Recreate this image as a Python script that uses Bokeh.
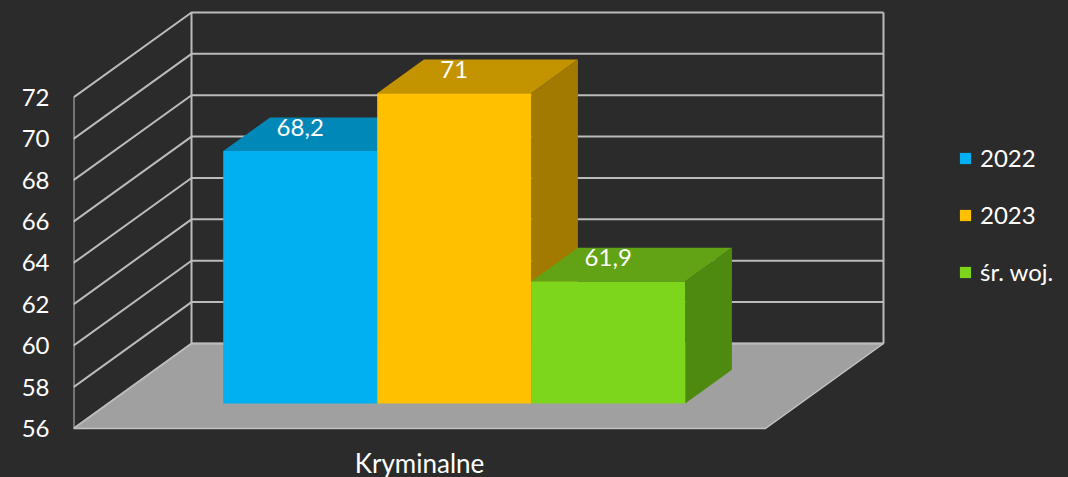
from bokeh.plotting import figure
from bokeh.models import Range1d, FixedTicker, ColumnDataSource, Legend, LegendItem
from bokeh.core.properties import value
from bokeh.embed import file_html
from bokeh.resources import INLINE

# ---------------- data ----------------
category = "Kryminalne"
series = ["2022", "2023", "śr. woj."]
values = [68.2, 71.0, 61.9]
value_labels = ["68,2", "71", "61,9"]
y_ticks = [56, 58, 60, 62, 64, 66, 68, 70, 72]

# ---------------- styles ----------------
front_colors = ["#00B0F0", "#FFC000", "#7ED61C"]
top_colors = ["#0088B9", "#C49300", "#62A315"]
side_colors = ["#00739E", "#A37A00", "#4F8A10"]
BG = "#2B2B2B"
GRID = "#BBBBBB"
FLOOR = "#A0A0A0"
TEXT = "#FFFFFF"
FONT = "Lato"

# ---------------- layout ----------------
W, H = 1068, 477
LEFT = 73            # frame left (canvas px)
PX = 20.69           # px per value unit
BASE_PX = 428        # canvas y of the lowest tick on the front plane
FLOOR_W = 692        # width of the front plane (x units = px)
DX = 118             # depth vector, x (px)
DY = 85 / PX         # depth vector, y (value units)
D0, D1 = 0.294, 0.69 # bar front/back depth fractions
GAP = 115            # gap at both sides of the bar group
BW = (FLOOR_W - 2 * GAP) / len(values)

Y0, Y1 = y_ticks[0], y_ticks[-1]

p = figure(width=W, height=H,
           x_range=Range1d(0, W - LEFT),
           y_range=Range1d(Y0 - (H - BASE_PX) / PX, Y0 + BASE_PX / PX),
           x_axis_type=None,
           min_border_left=LEFT, min_border_right=0,
           min_border_top=0, min_border_bottom=0,
           output_backend="svg", toolbar_location=None,
           background_fill_color=BG, border_fill_color=BG,
           outline_line_color=None)
p.styles = {"background-color": BG}
p.ygrid.grid_line_color = None

# y axis (values on the front-left edge)
ax = p.yaxis[0]
ax.ticker = FixedTicker(ticks=y_ticks)
ax.axis_line_color = None
ax.major_tick_line_color = None
ax.minor_tick_line_color = None
ax.major_tick_out = 0
ax.major_tick_in = 0
ax.major_label_standoff = 24
ax.major_label_text_font = FONT
ax.major_label_text_font_size = "24px"
ax.major_label_text_color = TEXT

# floor
p.patch([0, FLOOR_W, FLOOR_W + DX, DX], [Y0, Y0, Y0 + DY, Y0 + DY],
        fill_color=FLOOR, line_color="#C4C4C4", line_width=1.5)

# walls: gridlines on left wall and back wall, plus edges
xs, ys = [], []
for t in y_ticks:
    xs.append([0, DX, DX + FLOOR_W])
    ys.append([t, t + DY, t + DY])
xs.append([0, 0]); ys.append([Y0, Y1])
xs.append([DX, DX]); ys.append([Y0 + DY, Y1 + DY])
xs.append([DX + FLOOR_W, DX + FLOOR_W]); ys.append([Y0 + DY, Y1 + DY])
p.multi_line(xs, ys, line_color=GRID, line_width=2)

# bars
pxs, pys, pcol = [], [], []
bd = D1 - D0
ddx, ddy = bd * DX, bd * DY
lab_x, lab_y = [], []
for i, v in enumerate(values):
    x0 = D0 * DX + GAP + i * BW
    x1 = x0 + BW
    b = Y0 + D0 * DY
    t = v + D0 * DY
    # side
    pxs.append([x1, x1, x1 + ddx, x1 + ddx]); pys.append([b, t, t + ddy, b + ddy]); pcol.append(side_colors[i])
    # top
    pxs.append([x0, x1, x1 + ddx, x0 + ddx]); pys.append([t, t, t + ddy, t + ddy]); pcol.append(top_colors[i])
    # front
    pxs.append([x0, x1, x1, x0]); pys.append([b, b, t, t]); pcol.append(front_colors[i])
    lab_x.append((x0 + x1) / 2)
    lab_y.append(t + 24 / PX)

src = ColumnDataSource(dict(xs=pxs, ys=pys, color=pcol))
r = p.patches("xs", "ys", source=src, fill_color="color", line_color=None)

p.text(x=lab_x, y=lab_y, text=value_labels, text_font=value(FONT),
       text_font_size="24px", text_color=TEXT,
       text_align="center", text_baseline="middle")

# category label
p.text(x=[FLOOR_W / 2], y=[Y0 - 34 / PX], text=[category], text_font=value(FONT),
       text_font_size="26px", text_color=TEXT,
       text_align="center", text_baseline="middle")

legend = Legend(items=[LegendItem(label=s, renderers=[r], index=3 * i + 2) for i, s in enumerate(series)],
                location=(885, 191), orientation="vertical",
                glyph_width=14, glyph_height=14, label_height=29, spacing=28,
                padding=0, margin=0, border_line_color=None, background_fill_alpha=0,
                label_standoff=8, label_text_font=FONT, label_text_font_size="24px",
                label_text_color=TEXT)
p.add_layout(legend)

open("out.html", "w").write(file_html(p, INLINE))
